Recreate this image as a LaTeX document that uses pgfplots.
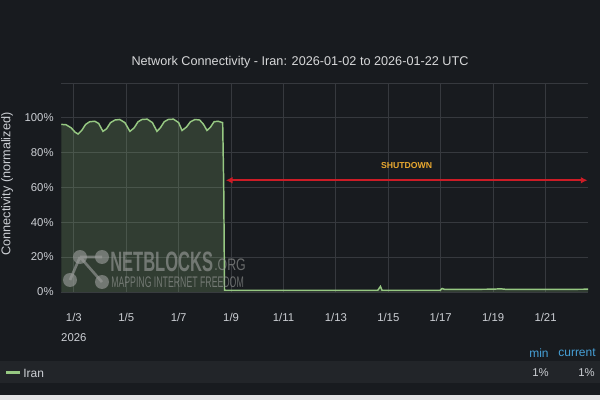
\documentclass[border=0pt]{standalone}
\usepackage{pgfplots}
\pgfplotsset{compat=1.18}
\usepackage{pgfplotstable}
\usetikzlibrary{arrows.meta}
\usepackage{fontspec}
\setmainfont{Liberation Sans}
\newfontfamily\nbfont[FakeStretch=0.59]{Liberation Sans}
\newfontfamily\nbsmall[FakeStretch=0.57]{Liberation Sans}
\newfontfamily\nborg[FakeStretch=0.74]{Liberation Sans}

\definecolor{bg}{RGB}{24,27,31}
\definecolor{legbg}{RGB}{34,37,41}
\definecolor{strip}{RGB}{228,228,230}
\definecolor{gridc}{RGB}{54,57,62}
\definecolor{tickc}{RGB}{204,207,212}
\definecolor{titlec}{RGB}{216,217,218}
\definecolor{lineg}{RGB}{150,200,130}
\definecolor{arrowred}{RGB}{204,28,38}
\definecolor{shutc}{RGB}{232,168,48}
\definecolor{hdrblue}{RGB}{70,160,215}
\definecolor{wmark}{RGB}{155,157,155}

% day of January 2026, connectivity in %
\pgfplotstableread{
day   conn
2.52  96
2.7   95.8
2.9   94
3.05  91.5
3.16  90.5
3.3   92.5
3.45  96
3.6   97.5
3.8   97.8
3.95  96.5
4.11  92
4.25  93.5
4.4   97
4.57  98.5
4.75  98.8
4.95  97
5.14  92
5.3   94
5.45  97.5
5.6   98.8
5.8   99
6.0   97
6.17  92
6.3   94
6.45  97.5
6.6   98.8
6.8   99
7.0   97
7.13  92.5
7.3   94.5
7.45  97.5
7.62  98.8
7.8   98.5
7.95  96
8.08  92.5
8.22  94.5
8.35  97.5
8.5   97.8
8.68  97
8.72  60
8.75  1
9.5   1
10.5  1
11.5  1
12.5  1
13.5  1
14.6  1
14.7  3.2
14.76 1
15.5  1
16.5  1
16.98 1
17.05 2
17.15 1.5
18    1.5
18.9  1.6
19.3  1.8
19.5  1.5
20.5  1.5
21.5  1.5
22.62 1.6
}\iran

\begin{document}
\begin{tikzpicture}[x=0.75pt,y=0.75pt]
\fill[bg] (0,0) rectangle (600,400);
\useasboundingbox (0,0) rectangle (600,400);
% legend band and bottom strip
\fill[legbg] (0,17) rectangle (600,39);
\fill[strip] (0,0) rectangle (600,5);

\node[text=titlec, font=\fontsize{9.5}{11}\selectfont] at (300,338)
  {Network Connectivity - Iran: 2026-01-02 to 2026-01-22 UTC};
\node[text=tickc, rotate=90, font=\fontsize{9.5}{11}\selectfont] at (7,216)
  {Connectivity (normalized)};

\begin{axis}[
  at={(45.75pt,81pt)}, anchor=south west,
  scale only axis, width=395.25pt, height=156.75pt,
  xmin=2.51, xmax=22.62, ymin=0, ymax=119.7,
  axis line style={draw=none},
  major tick length=0,
  xtick={3,5,...,21},
  xticklabels={{1/3\\2026},1/5,1/7,1/9,1/11,1/13,1/15,1/17,1/19,1/21},
  xticklabel style={align=center, text=tickc,
    font=\fontsize{8.5}{15}\selectfont, yshift=-12.75pt},
  ytick={0,20,...,100},
  yticklabels={0\%,20\%,40\%,60\%,80\%,100\%},
  yticklabel style={text=tickc, font=\fontsize{8.5}{10}\selectfont, xshift=-2pt},
  extra y ticks={119.7}, extra y tick labels={},
  extra y tick style={grid=major},
  grid=major, grid style={gridc, line width=0.7pt},
]
\addplot[draw=none, fill=lineg, fill opacity=0.2] table[x=day, y=conn] {\iran} \closedcycle;
\addplot[draw=lineg, line width=1.1pt] table[x=day, y=conn] {\iran};
\draw[arrowred, line width=1.2pt,
  {Latex[length=5pt,width=5pt]}-{Latex[length=5pt,width=5pt]}]
  (axis cs:8.8,64) -- (axis cs:22.6,64);
\node[text=shutc, font=\bfseries\fontsize{6.5}{8}\selectfont]
  at (axis cs:15.7,72.3) {SHUTDOWN};
\end{axis}

% watermark
\begin{scope}[wmark, opacity=0.62]
\draw[line width=2pt] (80,143) -- (102,143) (80,143) -- (102,118) (80,143) -- (70,120);
\fill (80,143) circle (7) (102,143) circle (7) (70,120) circle (7) (102,118) circle (7);
\node[anchor=base west, inner sep=0, font=\nbfont\bfseries\fontsize{21}{22}\selectfont]
  at (110,128) {NETBLOCKS};
\node[anchor=base west, inner sep=0, font=\nborg\fontsize{12.5}{14}\selectfont]
  at (214,129) {.ORG};
\node[anchor=base west, inner sep=0, font=\nbsmall\fontsize{11.5}{12}\selectfont]
  at (111,112) {MAPPING INTERNET FREEDOM};
\end{scope}

% legend
\fill[lineg] (6,25.5) rectangle (20,29);
\node[anchor=west, inner sep=0, text=tickc, font=\fontsize{9}{10}\selectfont] at (23,27) {Iran};
\node[anchor=east, inner sep=0, text=tickc, font=\fontsize{8.5}{10}\selectfont] at (549,27) {1\%};
\node[anchor=east, inner sep=0, text=tickc, font=\fontsize{8.5}{10}\selectfont] at (595,27) {1\%};
\node[text=hdrblue, font=\fontsize{9}{10}\selectfont] at (539,47) {min};
\node[text=hdrblue, font=\fontsize{9}{10}\selectfont] at (577,47) {current};
\end{tikzpicture}
\end{document}
